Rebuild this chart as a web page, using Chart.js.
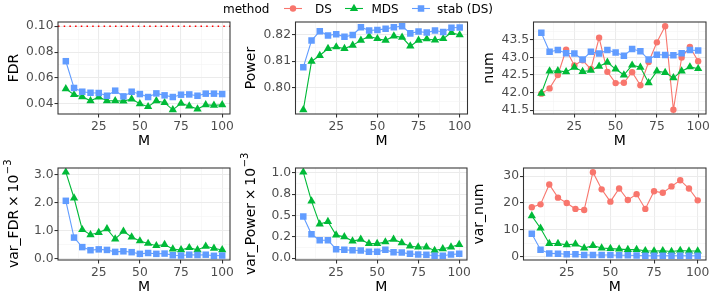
<!DOCTYPE html>
<html>
<head>
<meta charset="utf-8">
<script src="https://cdn.jsdelivr.net/npm/chart.js@4.4.0/dist/chart.umd.min.js"></script>
<style>
  html, body { margin: 0; padding: 0; background: #fff; }
  #wrap { position: relative; width: 714px; height: 306px; overflow: hidden; font-family: "DejaVu Sans", sans-serif; }
  #wrap canvas { position: absolute; left: 0; top: 0; }
  .lg { position: absolute; white-space: nowrap; color: #000; line-height: 16px; }
  .key { position: absolute; }
</style>
</head>
<body>
<div id="wrap">
  <canvas id="c1" width="714" height="306"></canvas>
  <canvas id="c2" width="714" height="306"></canvas>
  <canvas id="c3" width="714" height="306"></canvas>
  <canvas id="c4" width="714" height="306"></canvas>
  <canvas id="c5" width="714" height="306"></canvas>
  <canvas id="c6" width="714" height="306"></canvas>
  <div id="legend"></div>
</div>
<script>
// x values (M)
const M = [5, 10, 15, 20, 25, 30, 35, 40, 45, 50, 55, 60, 65, 70, 75, 80, 85, 90, 95, 100];

// FDR
const fdrMDS  = [0.0515, 0.0470, 0.0454, 0.0423, 0.0452, 0.0423, 0.0423, 0.0420, 0.0436, 0.0400, 0.0377, 0.0423, 0.0408, 0.0353, 0.0403, 0.0382, 0.0359, 0.0392, 0.0387, 0.0392];
const fdrStab = [0.0729, 0.0522, 0.0493, 0.0485, 0.0483, 0.0462, 0.0501, 0.0457, 0.0493, 0.0475, 0.0452, 0.0480, 0.0465, 0.0452, 0.0470, 0.0472, 0.0462, 0.0478, 0.0478, 0.0475];
const fdrTarget = 0.10;

// Power
const powerMDS  = [0.7917, 0.8099, 0.8121, 0.8147, 0.8153, 0.8147, 0.8159, 0.8178, 0.8193, 0.8184, 0.8178, 0.8194, 0.8189, 0.8156, 0.8178, 0.8183, 0.8179, 0.8184, 0.8207, 0.8198];
const powerStab = [0.8077, 0.8177, 0.8212, 0.8196, 0.8201, 0.8191, 0.8198, 0.8227, 0.8215, 0.8217, 0.8221, 0.8227, 0.8231, 0.8204, 0.8211, 0.8207, 0.8215, 0.8209, 0.8225, 0.8226];

// num
const numDS   = [41.97, 42.12, 42.50, 43.22, 42.77, 42.92, 42.67, 43.56, 42.59, 42.27, 42.28, 42.58, 42.21, 42.87, 43.43, 43.89, 41.51, 43.00, 43.30, 42.89];
const numMDS  = [41.98, 42.61, 42.62, 42.59, 42.72, 42.60, 42.63, 42.75, 42.86, 42.67, 42.50, 42.78, 42.72, 42.28, 42.61, 42.57, 42.42, 42.61, 42.73, 42.68];
const numStab = [43.70, 43.16, 43.21, 43.12, 43.11, 42.94, 43.16, 43.11, 43.21, 43.14, 43.05, 43.24, 43.18, 42.94, 43.08, 43.07, 43.06, 43.12, 43.21, 43.20];

// var_FDR (x 10^-3)
const varFdrMDS  = [3.09, 2.17, 1.04, 0.86, 0.94, 1.07, 0.71, 0.98, 0.78, 0.64, 0.55, 0.47, 0.51, 0.35, 0.32, 0.40, 0.32, 0.45, 0.38, 0.32];
const varFdrStab = [2.07, 0.76, 0.42, 0.31, 0.34, 0.32, 0.25, 0.27, 0.24, 0.18, 0.21, 0.18, 0.19, 0.13, 0.12, 0.15, 0.14, 0.15, 0.11, 0.12];

// var_Power (x 10^-3)
const varPowerMDS  = [1.01, 0.67, 0.40, 0.43, 0.27, 0.25, 0.20, 0.22, 0.17, 0.17, 0.19, 0.22, 0.18, 0.14, 0.13, 0.13, 0.09, 0.11, 0.13, 0.16];
const varPowerStab = [0.49, 0.28, 0.21, 0.21, 0.105, 0.097, 0.093, 0.089, 0.074, 0.074, 0.097, 0.070, 0.066, 0.050, 0.043, 0.039, 0.027, 0.027, 0.043, 0.050];

// var_num
const varNumDS   = [18.4, 19.5, 26.9, 22.0, 20.0, 17.8, 17.4, 31.5, 25.1, 20.5, 25.4, 21.1, 23.3, 17.8, 24.4, 23.8, 26.2, 28.5, 25.4, 21.0];
const varNumMDS  = [15.2, 10.6, 4.9, 4.9, 4.4, 4.7, 3.2, 4.1, 3.2, 3.0, 2.8, 2.6, 2.6, 2.2, 2.1, 2.2, 1.9, 2.3, 2.1, 2.1];
const varNumStab = [8.5, 2.6, 1.2, 1.1, 0.9, 0.9, 0.6, 0.6, 0.6, 0.6, 0.5, 0.5, 0.4, 0.3, 0.3, 0.3, 0.3, 0.3, 0.3, 0.3];

// tick values and labels
const xTicks = [25, 50, 75, 100];
const xTickLabels = ['25', '50', '75', '100'];
const fdrTicks = [0.04, 0.06, 0.08, 0.10];
const fdrTickLabels = ['0.04', '0.06', '0.08', '0.10'];
const powerTicks = [0.80, 0.81, 0.82];
const powerTickLabels = ['0.80', '0.81', '0.82'];
const numTicks = [41.5, 42.0, 42.5, 43.0, 43.5];
const numTickLabels = ['41.5', '42.0', '42.5', '43.0', '43.5'];
const varFdrTicks = [0, 1, 2, 3];
const varFdrTickLabels = ['0.0', '1.0', '2.0', '3.0'];
const varPowerTicks = [0, 0.25, 0.5, 0.75, 1.0];
const varPowerTickLabels = ['0.0', '0.2', '0.5', '0.8', '1.0'];
const varNumTicks = [0, 10, 20, 30];
const varNumTickLabels = ['0', '10', '20', '30'];

const methods = ['DS', 'MDS', 'stab (DS)'];
const colors = { 'DS': '#F8766D', 'MDS': '#00BA38', 'stab (DS)': '#619CFF' };
const shapes = { 'DS': 'circle', 'MDS': 'triangle', 'stab (DS)': 'rect' };
const sizes = { 'DS': 3.2, 'MDS': 4.8, 'stab (DS)': 4.6 };

const FONT = '"DejaVu Sans", sans-serif';
const TICK_COLOR = '#4D4D4D';

// ggplot style 5% expansion
function expand(vals) {
  const lo = Math.min(...vals), hi = Math.max(...vals);
  const d = (hi - lo) * 0.05;
  return [lo - d, hi + d];
}
const [xMin, xMax] = expand(M);

function tickList(majors, labels, lo, hi) {
  const step = majors[1] - majors[0];
  const out = majors.map((v, i) => ({ value: v, lab: labels[i], minor: false }));
  for (let k = -1; k < majors.length; k++) {
    const v = majors[0] + (k + 0.5) * step;
    if (v > lo && v < hi) out.push({ value: v, lab: '', minor: true });
  }
  return out.sort((a, b) => a.value - b.value);
}

const panels = [
  { id: 'c1', l: 58, r: 230, t: 22, b: 114, title: 'FDR', sup: '',
    series: { 'MDS': fdrMDS, 'stab (DS)': fdrStab }, hline: fdrTarget,
    ticks: fdrTicks, labels: fdrTickLabels },
  { id: 'c2', l: 295.5, r: 467.5, t: 22, b: 114, title: 'Power', sup: '',
    series: { 'MDS': powerMDS, 'stab (DS)': powerStab },
    ticks: powerTicks, labels: powerTickLabels },
  { id: 'c3', l: 533.5, r: 706, t: 22, b: 114, title: 'num', sup: '',
    series: { 'DS': numDS, 'MDS': numMDS, 'stab (DS)': numStab },
    ticks: numTicks, labels: numTickLabels },
  { id: 'c4', l: 58, r: 230, t: 168, b: 260, title: 'var_FDR\u2009\u00d7\u200910', sup: '\u22123',
    series: { 'MDS': varFdrMDS, 'stab (DS)': varFdrStab },
    ticks: varFdrTicks, labels: varFdrTickLabels },
  { id: 'c5', l: 295.5, r: 467, t: 168, b: 260, title: 'var_Power\u2009\u00d7\u200910', sup: '\u22123',
    series: { 'MDS': varPowerMDS, 'stab (DS)': varPowerStab },
    ticks: varPowerTicks, labels: varPowerTickLabels },
  { id: 'c6', l: 523.5, r: 706, t: 168, b: 260, title: 'var_num', sup: '',
    series: { 'DS': varNumDS, 'MDS': varNumMDS, 'stab (DS)': varNumStab },
    ticks: varNumTicks, labels: varNumTickLabels }
];

const Y_W = 40, X_H = 25;

const gridOpts = {
  color: ctx => (ctx.tick && ctx.tick.minor) ? '#F2F2F2' : '#EBEBEB',
  lineWidth: ctx => (ctx.tick && ctx.tick.minor) ? 0.55 : 1.07,
  tickColor: ctx => (ctx.tick && ctx.tick.minor) ? 'rgba(0,0,0,0)' : '#333333',
  tickLength: 3.5,
  drawTicks: true
};

const frame = {
  id: 'frame',
  afterDraw(chart, args, opts) {
    const p = opts.panel;
    const a = chart.chartArea, ctx = chart.ctx;
    ctx.save();
    ctx.strokeStyle = '#333333';
    ctx.lineWidth = 1.07;
    ctx.strokeRect(a.left, a.top, a.right - a.left, a.bottom - a.top);
    // x title
    ctx.fillStyle = '#000';
    ctx.font = '14px ' + FONT;
    ctx.textAlign = 'center';
    ctx.textBaseline = 'middle';
    ctx.fillText('M', (a.left + a.right) / 2, a.bottom + 27);
    // y title
    ctx.translate(a.left - 44, (a.top + a.bottom) / 2);
    ctx.rotate(-Math.PI / 2);
    const mainF = '14px ' + FONT, supF = '10px ' + FONT;
    ctx.font = mainF;
    const w1 = ctx.measureText(p.title).width;
    let w2 = 0;
    if (p.sup) { ctx.font = supF; w2 = ctx.measureText(p.sup).width; }
    const x0 = -(w1 + w2) / 2;
    ctx.textAlign = 'left';
    ctx.font = mainF;
    ctx.fillText(p.title, x0, 0);
    if (p.sup) { ctx.font = supF; ctx.fillText(p.sup, x0 + w1 + 0.5, -6); }
    ctx.restore();
  }
};

panels.forEach(p => {
  const allY = [].concat(...Object.values(p.series));
  if (p.hline !== undefined) allY.push(p.hline);
  const [yMin, yMax] = expand(allY);
  const names = methods.filter(m => p.series[m]);
  const datasets = [];
  names.forEach((m, i) => {
    datasets.push({
      data: M.map((x, j) => ({ x: x, y: p.series[m][j] })),
      borderColor: colors[m], borderWidth: 1.1, pointRadius: 0, pointHoverRadius: 0,
      fill: false, tension: 0, order: 10 - i
    });
  });
  names.forEach((m, i) => {
    datasets.push({
      data: M.map((x, j) => ({ x: x, y: p.series[m][j] })),
      showLine: false, pointStyle: shapes[m], pointRadius: sizes[m], pointHoverRadius: sizes[m],
      pointBackgroundColor: colors[m], pointBorderWidth: 0, borderColor: colors[m], order: 5 - i
    });
  });
  if (p.hline !== undefined) {
    datasets.push({
      data: [{ x: xMin, y: p.hline }, { x: xMax, y: p.hline }],
      borderColor: '#FF0000', borderWidth: 1.5, borderDash: [1.5, 4.2], pointRadius: 0,
      fill: false, order: 20
    });
  }
  new Chart(document.getElementById(p.id), {
    type: 'line',
    data: { datasets: datasets },
    options: {
      responsive: false,
      animation: false,
      events: [],
      layout: { padding: { left: p.l - Y_W, right: 714 - p.r, top: p.t, bottom: 306 - p.b - X_H } },
      plugins: { legend: { display: false }, tooltip: { enabled: false }, frame: { panel: p } },
      scales: {
        x: {
          type: 'linear', bounds: 'data', min: xMin, max: xMax,
          afterBuildTicks: s => { s.ticks = tickList(xTicks, xTickLabels, xMin, xMax); },
          afterFit: s => { s.height = X_H; },
          ticks: { autoSkip: false, maxRotation: 0, color: TICK_COLOR, padding: 2,
                   font: { family: FONT, size: 12.3 }, callback: (v, i, t) => t[i].lab },
          grid: gridOpts,
          border: { display: false }
        },
        y: {
          type: 'linear', bounds: 'data', min: yMin, max: yMax,
          afterBuildTicks: s => { s.ticks = tickList(p.ticks, p.labels, yMin, yMax); },
          afterFit: s => { s.width = Y_W; },
          ticks: { autoSkip: false, color: TICK_COLOR, padding: 1,
                   font: { family: FONT, size: 12.3 }, callback: (v, i, t) => t[i].lab },
          grid: gridOpts,
          border: { display: false }
        }
      }
    },
    plugins: [frame]
  });
});

// legend
const legend = document.getElementById('legend');
function addText(txt, left, size) {
  const d = document.createElement('div');
  d.className = 'lg';
  d.style.left = left + 'px';
  d.style.top = '0.5px';
  d.style.fontSize = size + 'px';
  d.textContent = txt;
  legend.appendChild(d);
}
function addKey(m, cx) {
  const ns = 'http://www.w3.org/2000/svg';
  const svg = document.createElementNS(ns, 'svg');
  svg.setAttribute('class', 'key');
  svg.setAttribute('width', '20');
  svg.setAttribute('height', '17');
  svg.style.left = (cx - 10) + 'px';
  svg.style.top = '0px';
  const line = document.createElementNS(ns, 'line');
  line.setAttribute('x1', '1'); line.setAttribute('x2', '19');
  line.setAttribute('y1', '8.5'); line.setAttribute('y2', '8.5');
  line.setAttribute('stroke', colors[m]); line.setAttribute('stroke-width', '1.1');
  svg.appendChild(line);
  let mk;
  if (shapes[m] === 'circle') {
    mk = document.createElementNS(ns, 'circle');
    mk.setAttribute('cx', '10'); mk.setAttribute('cy', '8.5'); mk.setAttribute('r', '3.2');
  } else if (shapes[m] === 'triangle') {
    mk = document.createElementNS(ns, 'polygon');
    mk.setAttribute('points', '10,3.7 14.16,10.9 5.84,10.9');
  } else {
    mk = document.createElementNS(ns, 'rect');
    mk.setAttribute('x', '6.75'); mk.setAttribute('y', '5.25');
    mk.setAttribute('width', '6.5'); mk.setAttribute('height', '6.5');
  }
  mk.setAttribute('fill', colors[m]);
  svg.appendChild(mk);
  legend.appendChild(svg);
}
addText('method', 223, 12);
const keyX = [292.5, 353.5, 421];
const textX = [315, 371.5, 437];
methods.forEach((m, i) => { addKey(m, keyX[i]); addText(m, textX[i], 12); });
</script>
</body>
</html>
